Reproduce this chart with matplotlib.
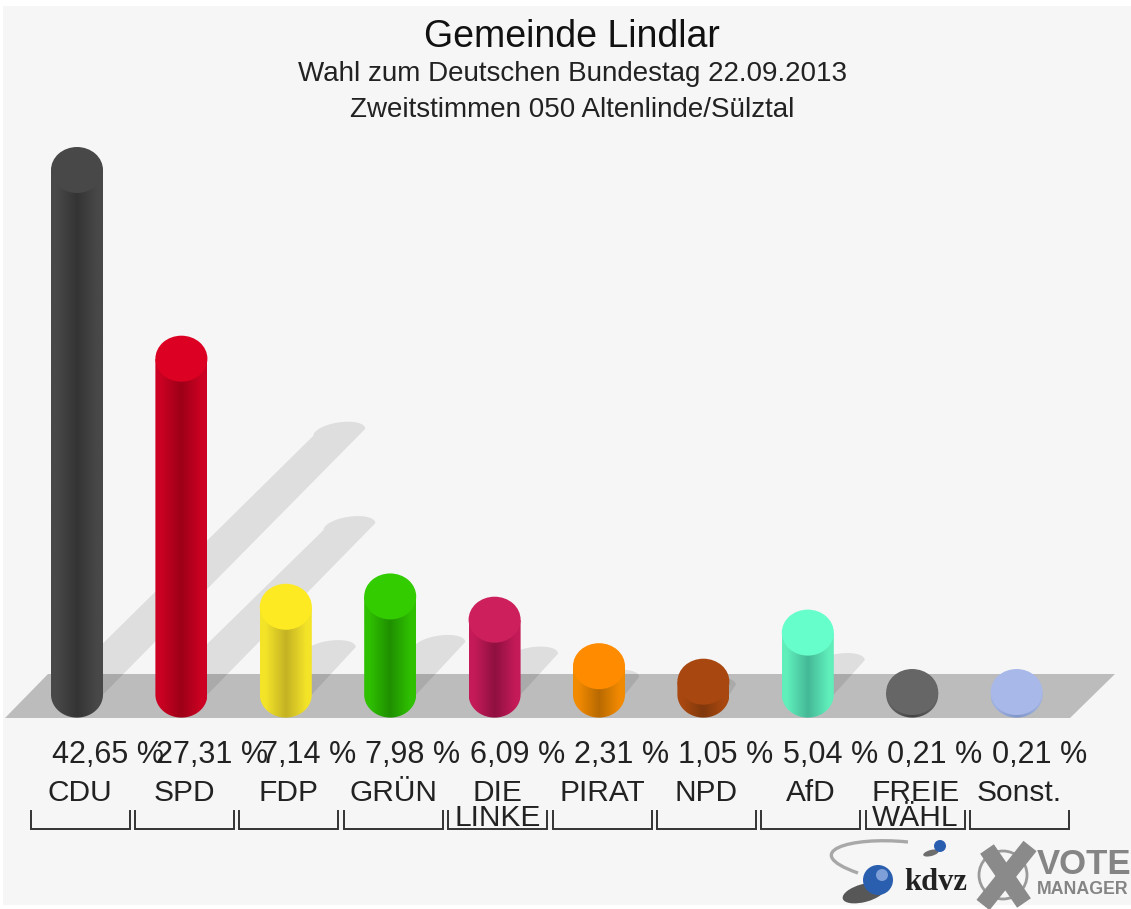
import numpy as np
from matplotlib import pyplot as plt
from matplotlib.patches import Polygon, Ellipse, Rectangle, Circle, PathPatch
from matplotlib.path import Path
from matplotlib.transforms import Affine2D, blended_transform_factory

parties = ["CDU", "SPD", "FDP", "GRÜN", "DIE", "PIRAT", "NPD", "AfD", "FREIE", "Sonst."]
second_line = ["", "", "", "", "LINKE", "", "", "", "WÄHL", ""]
values = [42.65, 27.31, 7.14, 7.98, 6.09, 2.31, 1.05, 5.04, 0.21, 0.21]
value_labels = ["42,65 %", "27,31 %", "7,14 %", "7,98 %", "6,09 %", "2,31 %", "1,05 %", "5,04 %", "0,21 %", "0,21 %"]

top_colors = ["#484848", "#dc0022", "#fdea22", "#33cc00", "#cc1f5c", "#ff8c00", "#a84810", "#66ffcc", "#666666", "#a8b8e8"]
edge_colors = ["#484848", "#cc0022", "#f4e428", "#2fc000", "#c41a58", "#f28a00", "#a84810", "#60eebb", "#606060", "#9cb0e0"]
mid_colors = ["#343434", "#9c0018", "#c4b224", "#1f8f00", "#8f1040", "#b86a00", "#80380c", "#44b896", "#444444", "#7f96c8"]

W, H = 1131, 909
# pixels per bar step and per percent
STEP, UNIT = 104.4, 12.3
X0, Y0 = 77.0, 671.6

fig = plt.figure(figsize=(W / 100, H / 100), dpi=100, facecolor="white")
ax = fig.add_axes([0, 0, 1, 1])
ax.axis("off")
plt.rcParams["font.family"] = ["Liberation Sans", "DejaVu Sans"]

# y down, top left origin, for everything that is not a bar
px = Affine2D().scale(1, -1).translate(0, H)
xmix = blended_transform_factory(ax.transData, px)

half_w = 26.0 / STEP
cap_h = 46.0 / UNIT
base_y = -23.0 / UNIT
shadow_step = 0.5  # shadow rises half a percent per percent


def rgb(c):
    return np.array([int(c[i:i + 2], 16) / 255 for i in (1, 3, 5)])


def shadow(i, v):
    dy = v * shadow_step
    dx = dy * UNIT / STEP
    a = np.linspace(np.pi, 0, 40)
    cx = i + dx + half_w * np.cos(a)
    cy = base_y + dy + 10.0 / UNIT * np.sin(a) + 3.5 / UNIT * np.cos(a)
    pts = [(i - half_w, base_y)] + list(zip(cx, cy)) + [(i + half_w, base_y)]
    ax.add_patch(Polygon(pts, closed=True, fc="black", ec="none", alpha=0.095, zorder=2))


def cylinder(i, v, top, edge, mid):
    # v is the top of the cap, the bottom tip sits at the same place for all bars
    yt = v - cap_h / 2
    rb = 23.0 / UNIT
    a = np.linspace(np.pi, 2 * np.pi, 40)
    xs = i + half_w * np.cos(a)
    ys = base_y + rb * np.sin(a)
    verts = [(i - half_w, yt)] + list(zip(xs, ys)) + [(i + half_w, yt), (i - half_w, yt)]
    clip = PathPatch(Path(verts), fc="none", ec="none", transform=ax.transData)
    ax.add_patch(clip)
    u = np.linspace(-1, 1, 60)
    k = np.clip(1 - np.abs(u) / 0.8, 0, 1)[None, :, None]
    img = rgb(edge)[None, None, :] * (1 - k) + rgb(mid)[None, None, :] * k
    im = ax.imshow(img, extent=(i - half_w, i + half_w, base_y - rb, yt), aspect="auto", zorder=4, interpolation="bilinear")
    im.set_clip_path(clip)
    ax.add_patch(Ellipse((i, yt), 2 * half_w, cap_h, fc=top, ec="none", zorder=5))


# background and floor
ax.add_patch(Rectangle((3, 6), W - 3, H - 10, fc="#f6f6f6", ec="none", transform=px, zorder=0))
ax.add_patch(Polygon([(5, 718), (1070, 718), (1115, 674), (48, 674)], closed=True, fc="#bcbcbc", ec="none", transform=px, zorder=1))

for i, v in enumerate(values):
    if v > 1:
        shadow(i, v)
for i, v in enumerate(values):
    cylinder(i, v, top_colors[i], edge_colors[i], mid_colors[i])

ax.set_xlim(-X0 / STEP, (W - X0) / STEP)
ax.set_ylim((Y0 - H) / UNIT, Y0 / UNIT)

# titles
ax.text(572, 37, "Gemeinde Lindlar", transform=px, fontsize=27, ha="center", va="center", color="#111111", zorder=6)
ax.text(572, 74, "Wahl zum Deutschen Bundestag 22.09.2013", transform=px, fontsize=20, ha="center", va="center", color="#222222", zorder=6)
ax.text(572, 110, "Zweitstimmen 050 Altenlinde/Sülztal", transform=px, fontsize=20, ha="center", va="center", color="#222222", zorder=6)

# labels and brackets
for i, lab in enumerate(value_labels):
    ax.text(i - 25.0 / STEP, 755, lab, transform=xmix, fontsize=22, ha="left", va="center", color="#222222", zorder=6)
for i, name in enumerate(parties):
    c = i + 3.0 / STEP
    ax.text(c, 793, name, transform=xmix, fontsize=21.5, ha="center", va="center", color="#222222", zorder=6)
    if second_line[i]:
        ax.text(c, 818, second_line[i], transform=xmix, fontsize=21.5, ha="center", va="center", color="#222222", zorder=6)
    l, r = c - 49.5 / STEP, c + 49.5 / STEP
    ax.plot([l, l, r, r], [811, 829, 829, 811], transform=xmix, color="#333333", lw=1.4, zorder=6, solid_joinstyle="miter")

# kdvz logo
swoosh = Path([(908, 842), (850, 836), (798, 852), (858, 873)], [Path.MOVETO, Path.CURVE4, Path.CURVE4, Path.CURVE4])
ax.add_patch(PathPatch(swoosh, fc="none", ec="#a8a8a8", lw=2.4, transform=px, zorder=6))
ax.add_patch(Ellipse((864, 893), 44, 18, angle=-15, fc="#222222", ec="none", alpha=0.75, transform=px, zorder=6))
ax.add_patch(Circle((878, 880), 15, fc="#2a5fb0", ec="none", transform=px, zorder=7))
ax.add_patch(Circle((882, 875), 6, fc="#7f9fd8", ec="none", transform=px, zorder=7))
ax.add_patch(Ellipse((931, 853), 16, 6, angle=-15, fc="#333333", ec="none", alpha=0.7, transform=px, zorder=6))
ax.add_patch(Circle((940, 846), 6, fc="#2a5fb0", ec="none", transform=px, zorder=7))
ax.text(936, 882, "kdvz", transform=px, family="Liberation Serif", fontweight="bold", fontsize=22, ha="center", va="center", color="#222222", zorder=7)

# vote manager logo
ax.add_patch(Circle((1003, 875), 24, fc="none", ec="#9a9a9a", lw=2, transform=px, zorder=6))
ax.plot([987, 1024], [849, 903], transform=px, color="#8a8a8a", lw=12, solid_capstyle="butt", zorder=7)
ax.plot([1030, 983], [846, 905], transform=px, color="#8a8a8a", lw=12, solid_capstyle="butt", zorder=7)
ax.text(1037, 865, "VOTE", transform=px, fontweight="bold", fontsize=25, ha="left", va="center", color="#858585", zorder=7)
ax.text(1037, 890, "MANAGER", transform=px, fontweight="bold", fontsize=12.8, ha="left", va="center", color="#858585", zorder=7)

plt.savefig("out.png", dpi=100, facecolor="white")
